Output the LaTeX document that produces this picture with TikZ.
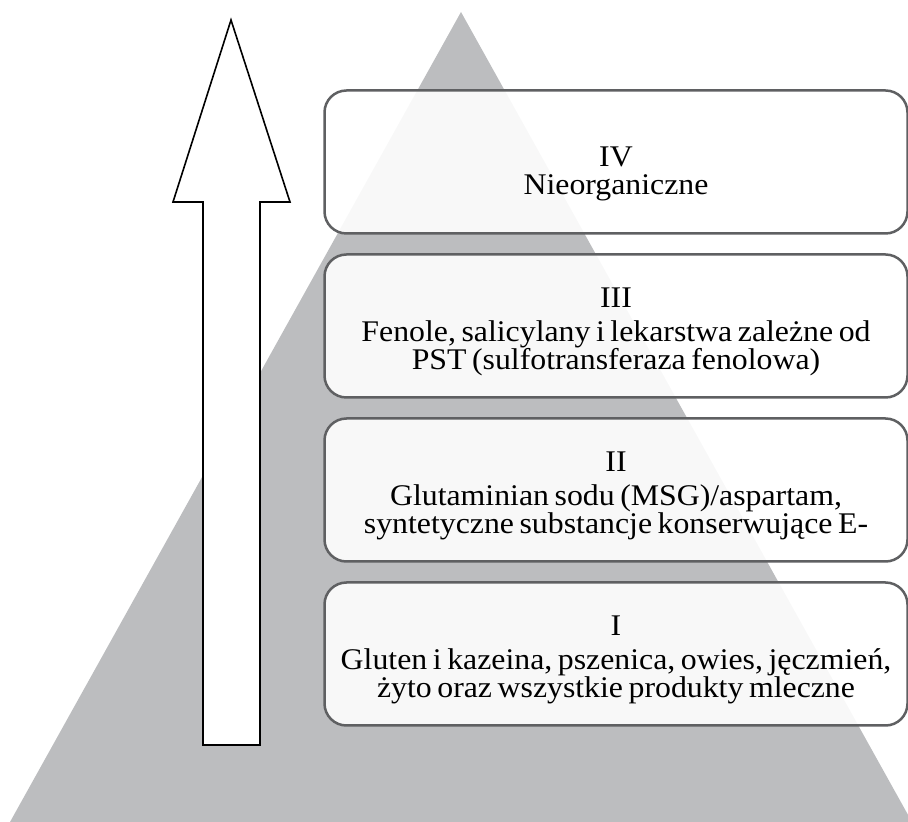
\documentclass[tikz,border=0pt]{standalone}
\usepackage{fontspec}
\setmainfont{Liberation Serif}[FakeStretch=1.06, WordSpace=0.7]
\usepackage{tikz}
\usetikzlibrary{positioning}
\definecolor{PyramidGray}{RGB}{188,189,191}
\definecolor{BorderGray}{RGB}{95,96,98}
\newcommand{\tierpush}[1]{\rule{0pt}{#1}}

\begin{document}
\begin{tikzpicture}[
    x=1pt, y=1pt,
    tier/.style={rectangle, draw=BorderGray, line width=2.5pt, fill=white,
                 fill opacity=0.9, text opacity=1, rounded corners=22pt,
                 minimum width=583pt, minimum height=143pt, inner sep=0pt,
                 align=center, font=\fontsize{30}{28}\selectfont},
    bigarrow/.style={draw=black, line width=1.6pt, fill=white}
]
    \clip (0,0) rectangle (908,822);
    % pyramid in the background
    \fill[PyramidGray] (461,810) -- (912,0) -- (10,0) -- cycle;

    % upward arrow
    \draw[bigarrow] (231,802) -- (290,620) -- (260,620) -- (260,77)
        -- (203,77) -- (203,620) -- (173,620) -- cycle;

    \node[tier] (iv) at (616,660) {\tierpush{44pt}IV\\Nieorganiczne};
    \node[tier, below=18.5pt of iv] (iii) {\tierpush{32pt}III\\[6pt]Fenole, salicylany i lekarstwa zależne od\\PST (sulfotransferaza fenolowa)};
    \node[tier, below=18.5pt of iii] (ii) {\tierpush{32pt}II\\[6pt]Glutaminian sodu (MSG)/aspartam,\\syntetyczne substancje konserwujące E-};
    \node[tier, below=18.5pt of ii] (i) {\tierpush{32pt}I\\[6pt]Gluten i kazeina, pszenica, owies, jęczmień,\\żyto oraz wszystkie produkty mleczne};
\end{tikzpicture}
\end{document}
